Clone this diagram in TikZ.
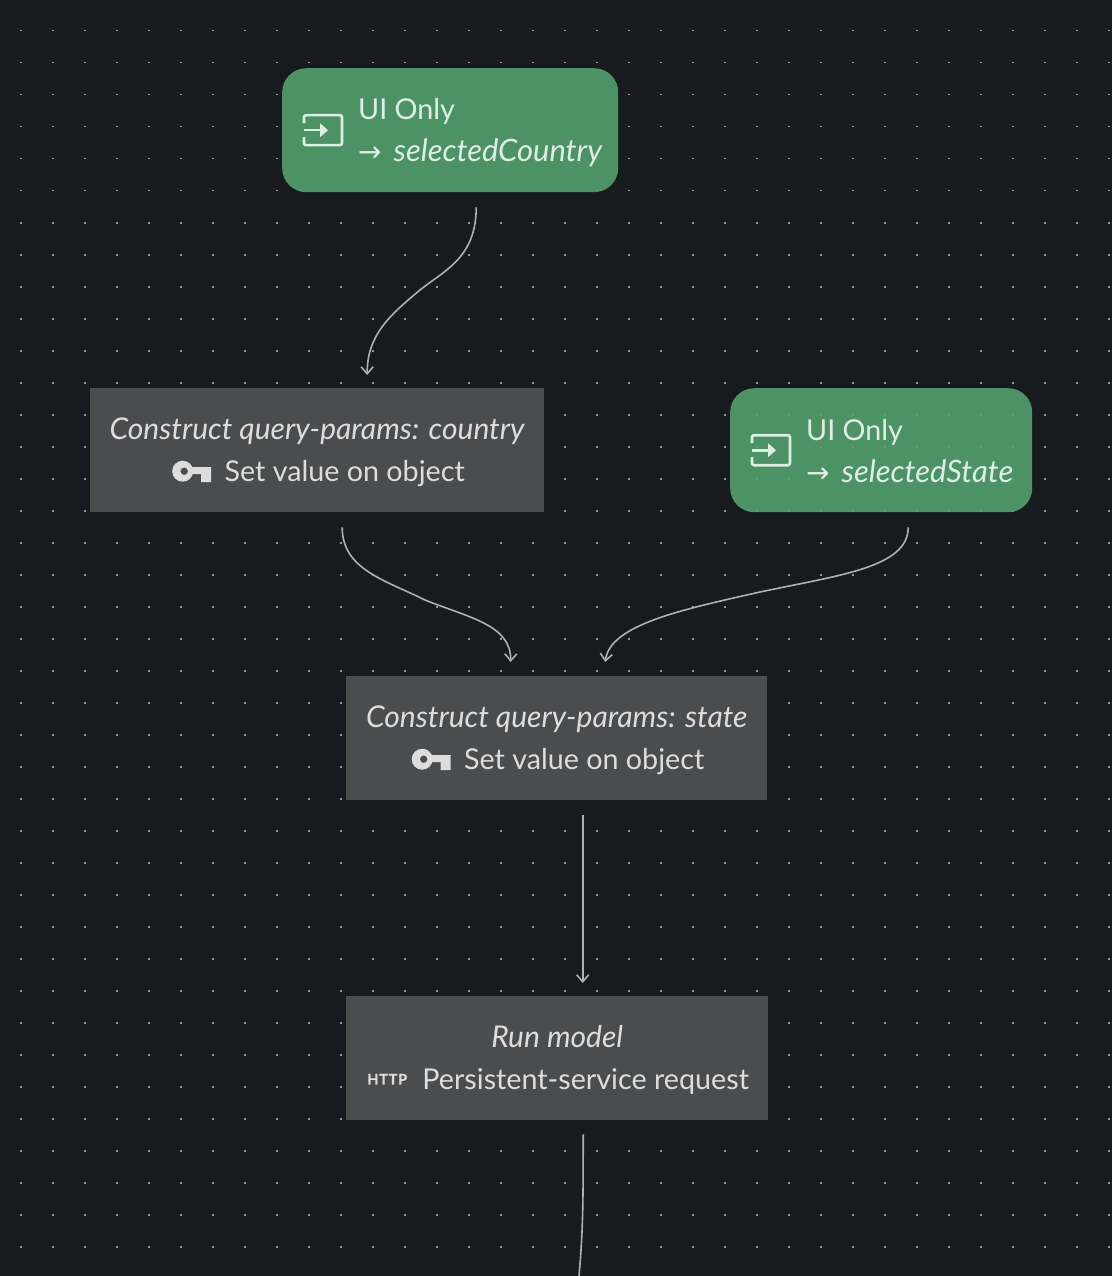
\documentclass[tikz,border=0pt]{standalone}
\usepackage{fontspec}
\setmainfont{Lato}[ItalicFeatures={Scale=1.045}]
\newfontfamily\arrowfont{DejaVu Sans}
\usetikzlibrary{arrows.meta,positioning}
\definecolor{canvas}{HTML}{171A1F}
\definecolor{griddot}{HTML}{95979A}
\definecolor{uigreen}{HTML}{52A06D}
\definecolor{stepgrey}{HTML}{4B4C4E}
\definecolor{edgegrey}{HTML}{B0B0B0}
\definecolor{uitext}{HTML}{DDEFE3}
\definecolor{steptext}{HTML}{DDDDDD}
\newcommand{\rowtop}{\rule{0pt}{26pt}}
\newcommand{\rowbot}{\rule[-4pt]{0pt}{4pt}}
\newcommand{\rowarrow}{{\arrowfont\fontsize{28}{42}\selectfont →}\hspace{12pt}}
\newcommand{\fieldname}[1]{{\fontsize{29.6}{42}\selectfont\textit{#1}}}

\begin{document}
\begin{tikzpicture}[
    x=1pt, y=-1pt,
    every node/.style={font=\fontsize{28.7}{42}\selectfont},
    uibox/.style={rounded corners=24pt, fill=uigreen, fill opacity=0.9, minimum height=124pt, inner sep=0pt, anchor=north west},
    uilabel/.style={align=left, anchor=west, text=uitext, inner sep=0pt},
    stepbox/.style={fill=stepgrey, minimum height=124pt, inner sep=0pt, anchor=north west, align=center, text=steptext},
    httptag/.style={font=\fontsize{14.5}{15}\selectfont\bfseries\addfontfeatures{FakeBold=1,LetterSpace=5}, text=steptext, inner sep=0pt},
    flow/.style={-{Straight Barb[length=7pt,width=12pt]}, edgegrey, line width=1.6pt},
    plainflow/.style={edgegrey, line width=1.6pt},
    keyicon/.pic={
        \fill[steptext, even odd rule] (10.5,0) circle (10.5) (12,0) circle (3.8);
        \fill[steptext] (19,-4) -- (39,-4) -- (39,11) -- (29,11) -- (29,3) -- (19,3) -- cycle;
    },
    enteicon/.pic={
        \draw[uitext, line width=2.6pt, line join=round, rounded corners=2pt]
            (-19,-7) -- (-19,-15) -- (19,-15) -- (19,15) -- (-19,15) -- (-19,7);
        \draw[uitext, line width=2.6pt] (-19,0) -- (0,0);
        \fill[uitext] (-3,-7) -- (5,0) -- (-3,7) -- cycle;
    }
]
\fill[canvas] (0,0) rectangle (1112,1276);
\useasboundingbox (0,0) rectangle (1112,1276);

% background dots
\foreach \px in {0,...,34} {
    \foreach \py in {0,...,39} {
        \fill[griddot] (20+32*\px,30+32*\py) rectangle ++(1.5,1.5);
    }
}

\node[uibox, minimum width=336pt] (uicountry) at (282,68) {};
\node[uibox, minimum width=302pt] (uistate) at (730,388) {};
\node[stepbox, minimum width=454pt] (country) at (90,388) {\rowtop\textit{Construct query-params: country}\\\hspace*{55pt}Set value on object\rowbot};
\node[stepbox, minimum width=421pt] (state) at (346,676) {\rowtop\textit{Construct query-params: state}\\\hspace*{55pt}Set value on object\rowbot};
\node[stepbox, minimum width=422pt] (runmodel) at (346,996) {\rowtop\textit{Run model}\\\hspace*{57pt}Persistent-service request\rowbot};

\node[uilabel] (uicountrytext) at ([xshift=76pt]uicountry.west) {\rowtop UI Only\\\rowarrow\fieldname{selectedCountry}\rowbot};
\node[uilabel] (uistatetext) at ([xshift=76pt]uistate.west) {\rowtop UI Only\\\rowarrow\fieldname{selectedState}\rowbot};
\node[httptag] (runhttp) at ([xshift=-170pt,yshift=-21pt]runmodel.center) {HTTP};

\pic at ([xshift=41pt]uicountry.west) {enteicon};
\pic at ([xshift=41pt]uistate.west) {enteicon};
\pic at ([xshift=-145pt,yshift=-21pt]country.center) {keyicon};
\pic at ([xshift=-145pt,yshift=-21pt]state.center) {keyicon};

\coordinate (pageend) at (579,1276);

\draw[flow] ([xshift=26pt,yshift=-15pt]uicountry.south) .. controls +(0,50) and (445,270) .. (420,290) .. controls (390,315) and (367,335) .. ([xshift=50pt,yshift=13pt]country.north);
\draw[flow] ([xshift=25pt,yshift=-15pt]country.south) .. controls +(0,42) and (385,580) .. (425,600) .. controls (470,618) and (511,625) .. ([xshift=-46pt,yshift=14pt]state.north);
\draw[flow] ([xshift=27pt,yshift=-15pt]uistate.south) .. controls +(0,40) and (840,575) .. (760,592) .. controls (680,610) and (610,625) .. ([xshift=48.5pt,yshift=14pt]state.north);
\draw[flow] ([xshift=26pt,yshift=-15pt]state.south) -- ([xshift=26pt,yshift=13pt]runmodel.north -| state.south);
\draw[plainflow] ([xshift=26pt,yshift=-14pt]runmodel.south) .. controls +(0,70) and (583,1230) .. (pageend);
\end{tikzpicture}
\end{document}
